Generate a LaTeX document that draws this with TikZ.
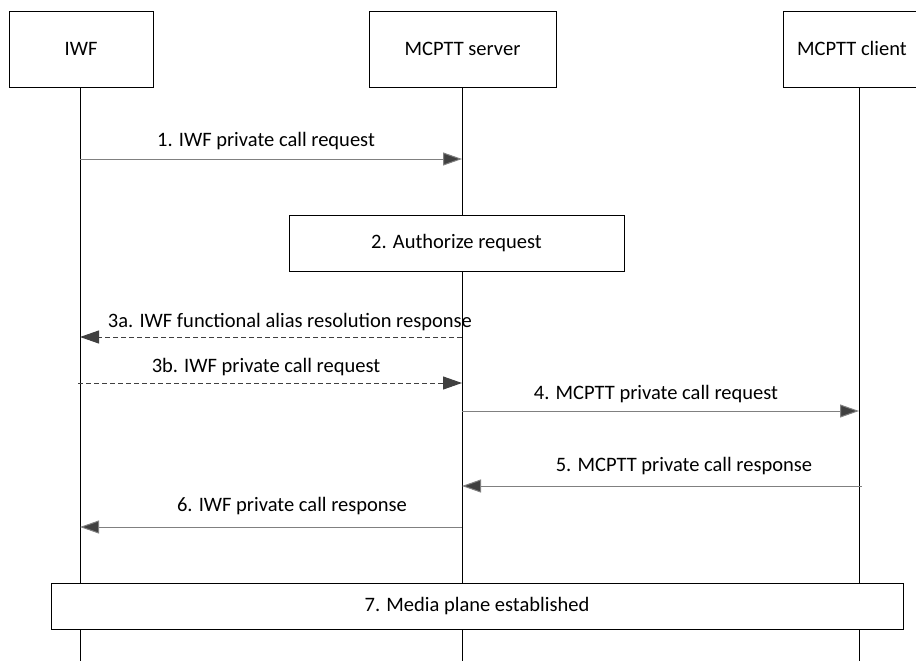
\documentclass[tikz,border=0pt]{standalone}
\usepackage{fontspec}
\setmainfont{Carlito}
\usetikzlibrary{arrows.meta}
\definecolor{msggray}{HTML}{808080}
\definecolor{headgray}{HTML}{404040}
\begin{document}
\begin{tikzpicture}[x=1pt,y=-1pt,
  every node/.style={font=\fontsize{20.5}{24}\selectfont, inner sep=0pt},
  entity/.style={draw=black, line width=0.8pt, fill=white},
  stepbox/.style={draw=black, line width=0.8pt, fill=white},
  lifeline/.style={draw=black, line width=0.8pt},
  msg/.style={draw=msggray, line width=1pt, -{Triangle[length=19pt,width=13pt,fill=headgray]}},
  dmsg/.style={msg, dash pattern=on 5pt off 3pt, draw=headgray},
  lbl/.style={anchor=base}
]
\useasboundingbox (0,0) rectangle (916,661);
% lifelines
\coordinate (wtop) at (80,87); \coordinate (wbot) at (80,661);
\coordinate (stop) at (462,87); \coordinate (sbot) at (462,661);
\coordinate (ctop) at (859,87); \coordinate (cbot) at (859,661);
\draw[lifeline] (wtop) -- (wbot);
\draw[lifeline] (stop) -- (sbot);
\draw[lifeline] (ctop) -- (cbot);
% entity boxes
\node[entity, minimum width=144pt, minimum height=76pt] (iwf) at (81,49) {IWF};
\node[entity, minimum width=187pt, minimum height=76pt] (srv) at (462.5,49) {MCPTT server};
\node[entity, minimum width=152pt, minimum height=76pt, anchor=west] (cli) at (783,49) {};
\node[anchor=base] (clitxt) at (852,56) {MCPTT client};
% message coordinates
\coordinate (a1) at (80,159); \coordinate (b1) at (462,159);
\coordinate (a3) at (462,337); \coordinate (b3) at (80,337);
\coordinate (a3b) at (78,383); \coordinate (b3b) at (462,383);
\coordinate (a4) at (462,411); \coordinate (b4) at (859,411);
\coordinate (a5) at (862,486); \coordinate (b5) at (462,486);
\coordinate (a6) at (462,527); \coordinate (b6) at (80,527);
\draw[msg] (a1) -- (b1);
\node[lbl] (l1) at (266,146) {1. IWF private call request};
\node[stepbox, minimum width=335pt, minimum height=56pt] (s2) at (456.5,243) {2. Authorize request};
\draw[dmsg] (a3) -- (b3);
\node[lbl] (l3a) at (290,327) {3a. IWF functional alias resolution response};
\draw[dmsg] (a3b) -- (b3b);
\node[lbl] (l3b) at (266,372) {3b. IWF private call request};
\draw[msg] (a4) -- (b4);
\node[lbl] (l4) at (656,399) {4. MCPTT private call request};
\draw[msg] (a5) -- (b5);
\node[lbl] (l5) at (684,471) {5. MCPTT private call response};
\draw[msg] (a6) -- (b6);
\node[lbl] (l6) at (292,511) {6. IWF private call response};
\node[stepbox, minimum width=852pt, minimum height=46pt] (s7) at (477,606) {7. Media plane established};
\end{tikzpicture}
\end{document}
